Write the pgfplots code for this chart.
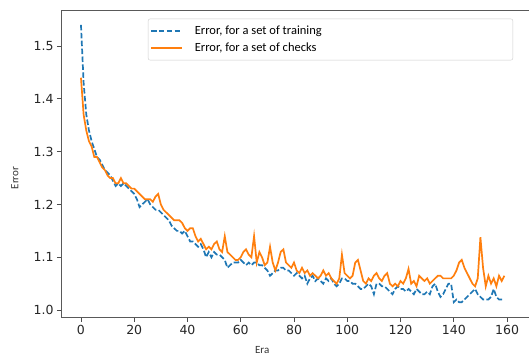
\documentclass[border=0pt]{standalone}
\usepackage{pgfplots}
\pgfplotsset{compat=1.18}
\usepackage{fontspec}
\setmainfont{Carlito}
\newfontfamily\dv{DejaVu Sans}
\definecolor{mplblue}{HTML}{1F77B4}
\definecolor{mplorange}{HTML}{FF7F0E}

\begin{document}
\begin{tikzpicture}[x=1pt,y=1pt]
\useasboundingbox (0,0) rectangle (529,358);
\begin{axis}[
  at={(61pt,40pt)}, anchor=south west,
  scale only axis, width=470pt, height=307pt,
  xmin=-7.5, xmax=169.0, ymin=0.985, ymax=1.5664,
  xtick={0,20,...,160},
  ytick={1.0,1.1,1.2,1.3,1.4,1.5},
  /pgf/number format/assume math mode=true,
  yticklabel style={/pgf/number format/.cd, fixed, fixed zerofill, precision=1},
  ticklabel style={font=\dv\fontsize{12.5}{14}\selectfont, text=black!85},
  tick align=outside, tick pos=left, major tick length=4pt,
  tick style={black!70, line width=0.8pt},
  axis line style={black!65, line width=1pt},
  xlabel={Era}, ylabel={Error},
  label style={font=\fontsize{11}{13}\selectfont, text=black!80},
  xlabel style={at={(axis description cs:0.428,-0.104)}, anchor=center},
  ylabel style={at={(axis description cs:-0.098,0.456)}, anchor=center},
  legend cell align=left,
  legend image code/.code={\draw[#1] (0pt,0pt) -- (31pt,0pt);},
  legend style={at={(0.185,0.975)}, anchor=north west,
    draw=black!20, rounded corners=2pt, fill=white,
    font=\fontsize{12.5}{14}\selectfont,
    inner xsep=2pt, inner ysep=5pt, row sep=3pt, column sep=10pt,
    nodes={inner sep=2pt}},
]
\addplot[mplblue, line width=1.7pt, dash pattern=on 5.5pt off 2.4pt] table {
x y
0 1.54
1 1.43
2 1.37
3 1.34
4 1.32
5 1.305
6 1.29
7 1.285
8 1.275
9 1.265
10 1.26
11 1.255
12 1.245
13 1.235
14 1.24
15 1.235
16 1.24
17 1.235
18 1.23
19 1.225
20 1.22
21 1.21
22 1.195
23 1.20
24 1.205
25 1.21
26 1.20
27 1.195
28 1.19
29 1.19
30 1.185
31 1.18
32 1.175
33 1.17
34 1.16
35 1.155
36 1.15
37 1.15
38 1.145
39 1.15
40 1.14
41 1.13
42 1.13
43 1.125
44 1.12
45 1.125
46 1.115
47 1.10
48 1.11
49 1.10
50 1.11
51 1.105
52 1.105
53 1.10
54 1.095
55 1.08
56 1.085
57 1.09
58 1.09
59 1.09
60 1.095
61 1.09
62 1.085
63 1.09
64 1.085
65 1.09
66 1.09
67 1.085
68 1.085
69 1.08
70 1.075
71 1.065
72 1.07
73 1.075
74 1.075
75 1.08
76 1.08
77 1.075
78 1.075
79 1.07
80 1.065
81 1.07
82 1.065
83 1.06
84 1.065
85 1.05
86 1.06
87 1.065
88 1.055
89 1.06
90 1.055
91 1.05
92 1.06
93 1.055
94 1.06
95 1.05
96 1.045
97 1.05
98 1.06
99 1.06
100 1.055
101 1.055
102 1.05
103 1.05
104 1.045
105 1.04
106 1.04
107 1.045
108 1.05
109 1.045
110 1.03
111 1.05
112 1.05
113 1.045
114 1.045
115 1.04
116 1.035
117 1.03
118 1.04
119 1.045
120 1.04
121 1.04
122 1.035
123 1.04
124 1.035
125 1.03
126 1.04
127 1.035
128 1.03
129 1.03
130 1.035
131 1.03
132 1.045
133 1.05
134 1.035
135 1.025
136 1.03
137 1.04
138 1.05
139 1.05
140 1.015
141 1.02
142 1.015
143 1.015
144 1.02
145 1.025
146 1.03
147 1.035
148 1.04
149 1.03
150 1.025
151 1.02
152 1.02
153 1.02
154 1.025
155 1.04
156 1.025
157 1.02
158 1.02
159 1.02
};
\addlegendentry{\makebox[314pt][l]{Error, for a set of training}}
\addplot[mplorange, line width=1.7pt] table {
x y
0 1.44
1 1.37
2 1.34
3 1.32
4 1.31
5 1.29
6 1.29
7 1.28
8 1.27
9 1.265
10 1.255
11 1.25
12 1.25
13 1.24
14 1.24
15 1.25
16 1.24
17 1.24
18 1.235
19 1.23
20 1.23
21 1.225
22 1.22
23 1.215
24 1.21
25 1.21
26 1.21
27 1.205
28 1.215
29 1.22
30 1.20
31 1.19
32 1.185
33 1.18
34 1.175
35 1.17
36 1.17
37 1.17
38 1.165
39 1.155
40 1.15
41 1.155
42 1.155
43 1.14
44 1.13
45 1.135
46 1.125
47 1.115
48 1.12
49 1.115
50 1.125
51 1.13
52 1.115
53 1.11
54 1.14
55 1.11
56 1.105
57 1.10
58 1.095
59 1.095
60 1.10
61 1.11
62 1.115
63 1.105
64 1.10
65 1.14
66 1.09
67 1.11
68 1.10
69 1.085
70 1.09
71 1.12
72 1.09
73 1.075
74 1.09
75 1.11
76 1.115
77 1.09
78 1.085
79 1.08
80 1.09
81 1.075
82 1.07
83 1.08
84 1.07
85 1.075
86 1.065
87 1.07
88 1.065
89 1.06
90 1.065
91 1.075
92 1.065
93 1.07
94 1.06
95 1.055
96 1.05
97 1.06
98 1.105
99 1.07
100 1.065
101 1.06
102 1.065
103 1.09
104 1.095
105 1.075
106 1.055
107 1.05
108 1.06
109 1.055
110 1.065
111 1.07
112 1.06
113 1.055
114 1.065
115 1.07
116 1.05
117 1.045
118 1.05
119 1.045
120 1.055
121 1.05
122 1.06
123 1.078
124 1.05
125 1.055
126 1.045
127 1.065
128 1.06
129 1.055
130 1.06
131 1.05
132 1.055
133 1.06
134 1.065
135 1.065
136 1.06
137 1.06
138 1.06
139 1.06
140 1.065
141 1.075
142 1.09
143 1.095
144 1.08
145 1.07
146 1.06
147 1.05
148 1.045
149 1.06
150 1.138
151 1.08
152 1.045
153 1.065
154 1.05
155 1.06
156 1.045
157 1.065
158 1.055
159 1.065
};
\addlegendentry{\makebox[314pt][l]{Error, for a set of checks}}
\end{axis}
\end{tikzpicture}
\end{document}
